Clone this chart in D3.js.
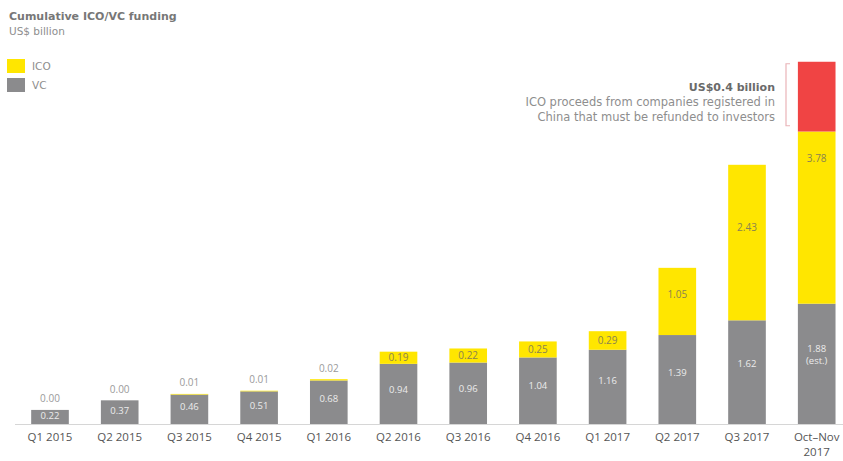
<!DOCTYPE html>
<html>
<head>
<meta charset="utf-8">
<script src="https://cdn.jsdelivr.net/npm/d3@7/dist/d3.min.js"></script>
<style>
  html, body { margin: 0; padding: 0; background: #fff; }
  svg { display: block; font-family: "Open Sans", "DejaVu Sans", sans-serif; }
</style>
</head>
<body>
<svg id="chart" width="843" height="461"></svg>
<script>
// ---- data ----
const categories = ["Q1 2015","Q2 2015","Q3 2015","Q4 2015","Q1 2016","Q2 2016","Q3 2016","Q4 2016","Q1 2017","Q2 2017","Q3 2017","Oct–Nov 2017"];
const vcValues   = [0.22, 0.37, 0.46, 0.51, 0.68, 0.94, 0.96, 1.04, 1.16, 1.39, 1.62, 1.88];
const icoValues  = [0.00, 0.00, 0.01, 0.01, 0.02, 0.19, 0.22, 0.25, 0.29, 1.05, 2.43, 3.78];
// portion of the ICO bar shown in red (as drawn in the source picture)
const refundShown = [0, 0, 0, 0, 0, 0, 0, 0, 0, 0, 0, 1.09];
const vcLabels   = ["0.22","0.37","0.46","0.51","0.68","0.94","0.96","1.04","1.16","1.39","1.62","1.88|(est.)"];
const icoLabels  = ["0.00","0.00","0.01","0.01","0.02","0.19","0.22","0.25","0.29","1.05","2.43","3.78"];
const xTickLabels = ["Q1 2015","Q2 2015","Q3 2015","Q4 2015","Q1 2016","Q2 2016","Q3 2016","Q4 2016","Q1 2017","Q2 2017","Q3 2017","Oct–Nov|2017"];
const legendItems = ["ICO", "VC"];
const annotationLines = ["US$0.4 billion", "ICO proceeds from companies registered in", "China that must be refunded to investors"];

// ---- styles ----
const YELLOW = "#FFE600", GRAY = "#8b8b8d", RED = "#F04444";
const WIDE = "'DejaVu Sans', sans-serif";

const svg = d3.select("#chart");
const baseY = 424;

const x = d3.scaleBand()
  .domain(categories)
  .range([15.15, 851.55])
  .paddingInner(0.46)
  .paddingOuter(0.23);

const y = d3.scaleLinear().domain([0, 1]).range([baseY, baseY - 64]);

const rows = categories.map((c, i) => ({
  c, i, vc: vcValues[i], ico: icoValues[i], red: refundShown[i]
}));

// baseline
svg.append("line")
  .attr("x1", 15).attr("x2", 843)
  .attr("y1", baseY + 0.5).attr("y2", baseY + 0.5)
  .attr("stroke", "#d6d6d6").attr("stroke-width", 1);

// VC bars
svg.selectAll("rect.vc").data(rows).join("rect")
  .attr("class", "vc")
  .attr("x", d => x(d.c)).attr("width", x.bandwidth())
  .attr("y", d => y(d.vc)).attr("height", d => y(0) - y(d.vc))
  .attr("fill", GRAY);

// ICO bars (yellow part)
svg.selectAll("rect.ico").data(rows).join("rect")
  .attr("class", "ico")
  .attr("x", d => x(d.c)).attr("width", x.bandwidth())
  .attr("y", d => y(d.vc + d.ico - d.red))
  .attr("height", d => y(d.vc) - y(d.vc + d.ico - d.red))
  .attr("fill", YELLOW);

// refund (red part)
svg.selectAll("rect.red").data(rows.filter(d => d.red > 0)).join("rect")
  .attr("class", "red")
  .attr("x", d => x(d.c)).attr("width", x.bandwidth())
  .attr("y", d => y(d.vc + d.ico))
  .attr("height", d => y(d.vc + d.ico - d.red) - y(d.vc + d.ico))
  .attr("fill", RED);

// VC labels
rows.forEach(d => {
  const parts = vcLabels[d.i].split("|");
  const cy = y(d.vc * 0.58);
  const t = svg.append("text")
    .attr("x", x(d.c) + x.bandwidth() / 2)
    .attr("text-anchor", "middle")
    .attr("font-size", 9.5)
    .attr("fill", "#ececec");
  parts.forEach((p, k) => {
    t.append("tspan")
      .attr("x", x(d.c) + x.bandwidth() / 2)
      .attr("y", cy + 3.5 + (k - (parts.length - 1) / 2) * 12)
      .text(p);
  });
});

// ICO labels
rows.forEach(d => {
  const cx = x(d.c) + x.bandwidth() / 2;
  let cy, fill;
  if (d.ico < 0.1) {
    cy = y(d.vc + d.ico) - 11; fill = "#9a9a9a";
  } else if (d.ico < 0.5) {
    cy = (y(d.vc) + y(d.vc + d.ico)) / 2; fill = "#8a8350";
  } else {
    cy = y(d.vc + d.ico * 0.6); fill = "#8a8350";
  }
  svg.append("text")
    .attr("x", cx).attr("y", cy + 3.5)
    .attr("text-anchor", "middle")
    .attr("font-size", 10)
    .attr("fill", fill)
    .text(icoLabels[d.i]);
});

// x axis labels
rows.forEach(d => {
  const parts = xTickLabels[d.i].split("|");
  const t = svg.append("text")
    .attr("text-anchor", "middle")
    .attr("font-size", 11.5)
    .attr("fill", "#555");
  parts.forEach((p, k) => {
    t.append("tspan")
      .attr("x", x(d.c) + x.bandwidth() / 2)
      .attr("y", 441 + k * 15)
      .text(p);
  });
});

// title
svg.append("text").attr("x", 9).attr("y", 20)
  .style("font-family", WIDE)
  .attr("font-size", 11).attr("font-weight", "bold").attr("fill", "#777")
  .text("Cumulative ICO/VC funding");
svg.append("text").attr("x", 9).attr("y", 35)
  .style("font-family", WIDE)
  .attr("font-size", 10.5).attr("fill", "#8e8e8e")
  .text("US$ billion");

// legend
const legColors = [YELLOW, GRAY];
legendItems.forEach((name, k) => {
  const ly = 59 + k * 19;
  svg.append("rect").attr("x", 7).attr("y", ly).attr("width", 18).attr("height", 14)
    .attr("fill", legColors[k]);
  svg.append("text").attr("x", 32).attr("y", ly + 11)
    .style("font-family", WIDE)
    .attr("font-size", 10.5).attr("fill", "#8e8e8e").text(name);
});

// annotation
const last = rows[rows.length - 1];
const annTop = y(last.vc + last.ico);
annotationLines.forEach((line, k) => {
  svg.append("text")
    .attr("x", 775).attr("y", 91 + k * 15)
    .attr("text-anchor", "end")
    .style("font-family", WIDE)
    .attr("font-size", k === 0 ? 11 : 11.5)
    .attr("font-weight", k === 0 ? "bold" : "normal")
    .attr("fill", k === 0 ? "#6a6a6a" : "#8e8e8e")
    .text(line);
});
// bracket
const bTop = annTop + 2, bBot = annTop + 64;
svg.append("path")
  .attr("d", `M790,${bTop} H786 V${bBot} H790`)
  .attr("fill", "none").attr("stroke", "#e9b4b8").attr("stroke-width", 1.2);
</script>
</body>
</html>
